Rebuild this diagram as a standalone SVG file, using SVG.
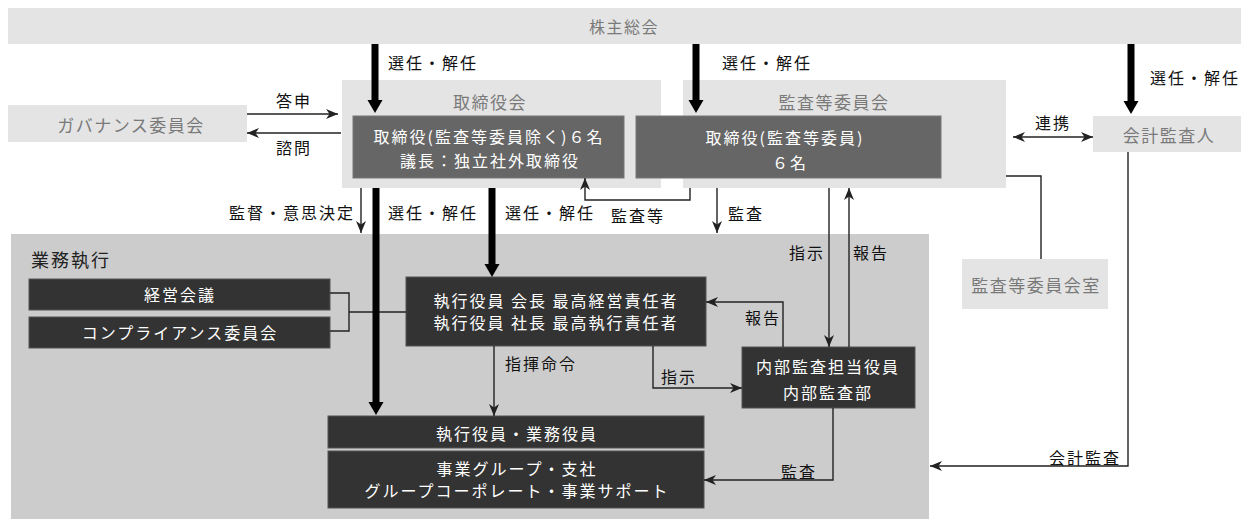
<svg xmlns="http://www.w3.org/2000/svg" width="1249" height="520" viewBox="0 0 1249 520">
<style>
text{font-family:"Noto Sans CJK JP","Noto Sans CJK SC",sans-serif;dominant-baseline:central;}
.lbl{font-size:16px;letter-spacing:2px;fill:#111;}
.gt{font-size:17px;letter-spacing:1.5px;fill:#7a7a7a;}
.wt{font-size:16px;letter-spacing:2px;fill:#fff;}
.lg{fill:#e4e4e4;}
.dk{fill:#333;stroke:#555;stroke-width:1;}
.md{fill:#666;stroke:#777;stroke-width:1;}
.c{fill:none;stroke:#222;stroke-width:1.4;}
.ca{fill:none;stroke:#222;stroke-width:1.4;marker-end:url(#ah);}
.tk{fill:none;stroke:#000;stroke-width:7;marker-end:url(#aT);}
.m{text-anchor:middle;}
.e{text-anchor:end;}
</style>
<defs>
<marker id="ah" markerUnits="userSpaceOnUse" markerWidth="13" markerHeight="10" refX="12" refY="5" orient="auto-start-reverse"><path d="M0,0 L12,5 L0,10 L3.5,5 z" fill="#222"/></marker>
<marker id="aT" markerUnits="userSpaceOnUse" markerWidth="14" markerHeight="16" refX="3" refY="7.5" orient="auto"><path d="M0,0 L13,7.5 L0,15 z" fill="#000"/></marker>
</defs>

<g id="exec-area"><rect x="11" y="234" width="918" height="285" fill="#ccc"/><text class="lbl" x="31" y="259" style="font-size:18px;fill:#222">業務執行</text></g>

<g id="shareholders"><rect class="lg" x="8" y="8" width="1233" height="36"/><text class="gt m" x="624" y="26" style="font-size:16px">株主総会</text></g>

<g id="board"><rect class="lg" x="342" y="80" width="319" height="108"/><text class="gt m" x="490" y="101">取締役会</text>
<rect class="md" x="353" y="116" width="271" height="62"/><text class="wt m" x="489" y="136">取締役(監査等委員除く)６名</text><text class="wt m" x="490" y="160">議長：独立社外取締役</text></g>

<g id="audit-committee"><rect class="lg" x="683" y="80" width="323" height="108"/><text class="gt m" x="834" y="101">監査等委員会</text>
<rect class="md" x="636" y="116" width="305" height="62"/><text class="wt m" x="785" y="137">取締役(監査等委員)</text><text class="wt m" x="790" y="162">６名</text></g>

<g id="governance"><rect class="lg" x="8" y="105" width="239" height="37"/><text class="gt m" x="131" y="124">ガバナンス委員会</text></g>

<g id="auditor"><rect class="lg" x="1093" y="116" width="148" height="36"/><text class="gt m" x="1169" y="134">会計監査人</text></g>

<g id="audit-office"><rect class="lg" x="962" y="259" width="146" height="50"/><text class="gt m" x="1036" y="284">監査等委員会室</text></g>

<g id="mgmt-meeting"><rect class="dk" x="29" y="279" width="301" height="31"/><text class="wt m" x="180" y="294">経営会議</text></g>
<g id="compliance"><rect class="dk" x="29" y="317" width="301" height="31"/><text class="wt m" x="180" y="332">コンプライアンス委員会</text></g>

<g id="executives"><rect class="dk" x="406" y="277" width="300" height="69"/><text class="wt m" x="556" y="300">執行役員 会長 最高経営責任者</text><text class="wt m" x="556" y="322">執行役員 社長 最高執行責任者</text></g>

<g id="internal-audit"><rect class="dk" x="742" y="347" width="173" height="61"/><text class="wt m" x="828" y="366">内部監査担当役員</text><text class="wt m" x="828" y="392">内部監査部</text></g>

<g id="officers"><rect class="dk" x="328" y="416" width="376" height="32"/><text class="wt m" x="517" y="433">執行役員・業務役員</text></g>
<g id="business"><rect class="dk" x="328" y="451" width="376" height="57"/><text class="wt m" x="517" y="468">事業グループ・支社</text><text class="wt m" x="517" y="490">グループコーポレート・事業サポート</text></g>

<g id="connectors">
<path class="c" d="M330,293 H349 V331 H330 M349,312 H406"/>
<path class="c" d="M1006,176 H1041 V259"/>
<path class="tk" d="M375,44 V103"/>
<path class="tk" d="M696,44 V103"/>
<path class="tk" d="M1131,44 V104"/>
<path class="tk" d="M376,188 V405"/>
<path class="tk" d="M492,188 V267"/>
<path class="ca" d="M361,188 V233"/>
<path class="ca" d="M717,188 V233"/>
<path class="ca" d="M247,114 H338"/>
<path class="ca" d="M341,133 H247"/>
<path class="ca" d="M1013,137 H1093" style="marker-start:url(#ah)"/>
<path class="ca" d="M690,188 V200 H585 V178"/>
<path class="ca" d="M829,188 V347"/>
<path class="ca" d="M849,347 V188"/>
<path class="ca" d="M783,347 V302 H706"/>
<path class="ca" d="M653,346 V388 H742"/>
<path class="ca" d="M494,346 V416"/>
<path class="ca" d="M833,408 V480 H704"/>
<path class="ca" d="M1128,152 V466 H930"/>
</g>

<g id="labels">
<text class="lbl" x="388" y="62">選任・解任</text>
<text class="lbl" x="722" y="62">選任・解任</text>
<text class="lbl" x="1150" y="77">選任・解任</text>
<text class="lbl" x="388" y="212">選任・解任</text>
<text class="lbl" x="505" y="212">選任・解任</text>
<text class="lbl e" x="355" y="212">監督・意思決定</text>
<text class="lbl m" x="638" y="215">監査等</text>
<text class="lbl" x="728" y="213">監査</text>
<text class="lbl m" x="294" y="100">答申</text>
<text class="lbl m" x="294" y="147">諮問</text>
<text class="lbl m" x="1053" y="122">連携</text>
<text class="lbl e" x="825" y="252">指示</text>
<text class="lbl" x="853" y="252">報告</text>
<text class="lbl m" x="763" y="317">報告</text>
<text class="lbl" x="505" y="363">指揮命令</text>
<text class="lbl" x="661" y="376">指示</text>
<text class="lbl m" x="799" y="471">監査</text>
<text class="lbl e" x="1121" y="457">会計監査</text>
</g>
</svg>
